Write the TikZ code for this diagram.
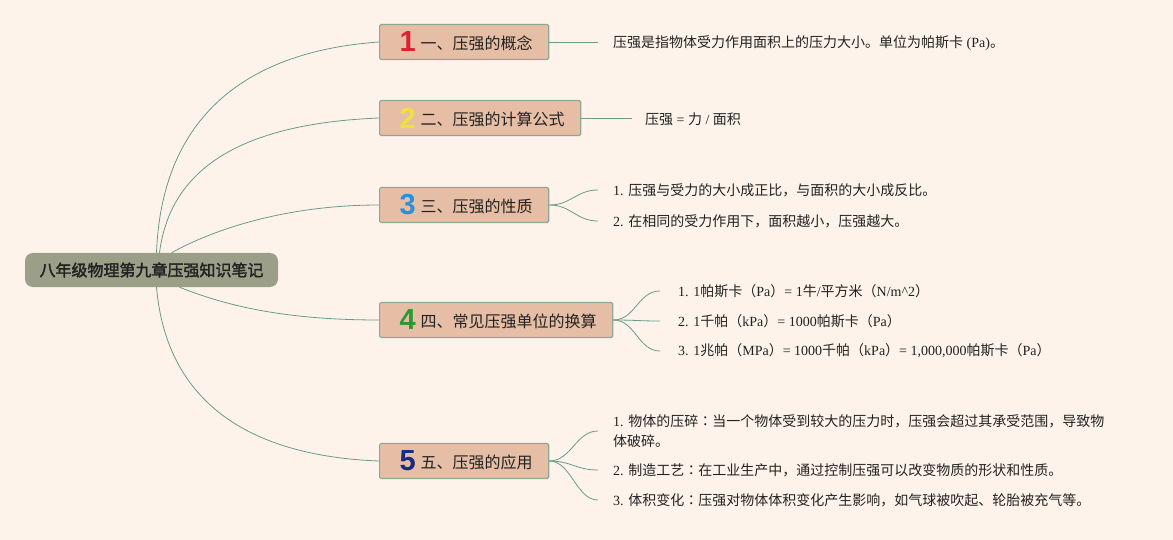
\documentclass[tikz,border=0pt]{standalone}
\usepackage{fontspec}
\setmainfont{Noto Sans CJK SC}
\newfontfamily\latf{Liberation Serif}
\newfontfamily\jpf{Noto Sans CJK JP}
\newfontfamily\cjkbold[FakeBold=2.2]{Noto Sans CJK SC}
\newfontfamily\digf{Liberation Sans}
\newcommand\Lt[1]{{\latf{}#1}}
\newcommand\cln{{\jpf ：}}
\newcommand\dg[2]{\raisebox{-2.5pt}{\digf\bfseries\fontsize{29}{29}\selectfont\color{#1}#2}}
\definecolor{bgc}{HTML}{FDF3EA}
\definecolor{rootc}{HTML}{9C9F87}
\definecolor{brc}{HTML}{E6BEA5}
\definecolor{brd}{HTML}{8FA895}
\definecolor{lnc}{HTML}{6B9A88}
\definecolor{txc}{HTML}{222222}
\definecolor{d1}{HTML}{E0202E}
\definecolor{d2}{HTML}{F0E040}
\definecolor{d3}{HTML}{2A90D8}
\definecolor{d4}{HTML}{2A9A30}
\definecolor{d5}{HTML}{1A2A80}
\begin{document}
\begin{tikzpicture}[x=1pt,y=-1pt,
  rootbox/.style={fill=rootc,rounded corners=8pt,minimum width=253pt,minimum height=34pt,inner sep=0pt,
    font=\cjkbold\fontsize{16}{18}\selectfont,text=txc},
  brbox/.style={fill=brc,draw=brd,line width=1.2pt,rounded corners=1.5pt,minimum height=35pt,inner xsep=16pt,inner ysep=0pt,
    anchor=west,font=\fontsize{16}{18}\selectfont,text=txc},
  leaf/.style={anchor=west,inner sep=0pt,font=\fontsize{14}{20}\selectfont,text=txc,align=left},
  conn/.style={draw=lnc,line width=0.8pt}]
\fill[bgc] (0,0) rectangle (1173,540);
\useasboundingbox (0,0) rectangle (1173,540);

\node[rootbox] (root) at (151.5,270) {八年级物理第九章压强知识笔记};

\node[brbox] (b1) at (379,42) {\hspace{4pt}\dg{d1}{1}\hspace{5pt}一、压强的概念};
\node[brbox] (b2) at (379,118) {\hspace{4pt}\dg{d2}{2}\hspace{5pt}二、压强的计算公式};
\node[brbox] (b3) at (379,205) {\hspace{4pt}\dg{d3}{3}\hspace{5pt}三、压强的性质};
\node[brbox] (b4) at (379,320) {\hspace{4pt}\dg{d4}{4}\hspace{5pt}四、常见压强单位的换算};
\node[brbox] (b5) at (379,461) {\hspace{4pt}\dg{d5}{5}\hspace{5pt}五、压强的应用};

\node[leaf] (l1) at (613,43) {压强是指物体受力作用面积上的压力大小。单位为帕斯卡\Lt{ (Pa)}。};
\node[leaf] (l2) at (645,119) {压强\Lt{ = }力\Lt{ / }面积};
\node[leaf] (l3a) at (613,190) {\Lt{1. }压强与受力的大小成正比，与面积的大小成反比。};
\node[leaf] (l3b) at (613,221) {\Lt{2. }在相同的受力作用下，面积越小，压强越大。};
\node[leaf] (l4a) at (678,291) {\Lt{1. 1}帕斯卡（\Lt{Pa}）\Lt{= 1}牛\Lt{/}平方米（\Lt{N/m\textasciicircum2}）};
\node[leaf] (l4b) at (678,321) {\Lt{2. 1}千帕（\Lt{kPa}）\Lt{= 1000}帕斯卡（\Lt{Pa}）};
\node[leaf] (l4c) at (678,351) {\Lt{3. 1}兆帕（\Lt{MPa}）\Lt{= 1000}千帕（\Lt{kPa}）\Lt{= 1,000,000}帕斯卡（\Lt{Pa}）};
\node[leaf] (l5a) at (613,431) {\Lt{1. }物体的压碎\cln 当一个物体受到较大的压力时，压强会超过其承受范围，导致物\\体破碎。};
\node[leaf] (l5b) at (613,470) {\Lt{2. }制造工艺\cln 在工业生产中，通过控制压强可以改变物质的形状和性质。};
\node[leaf] (l5c) at (613,500) {\Lt{3. }体积变化\cln 压强对物体体积变化产生影响，如气球被吹起、轮胎被充气等。};

% root to branches
\draw[conn] ([xshift=5pt]root.north) .. controls +(5,-130) and +(-140,10) .. (b1.west);
\draw[conn] ([xshift=8pt]root.north) .. controls +(12,-95) and +(-120,5) .. (b2.west);
\draw[conn] ([xshift=20pt]root.north) .. controls +(45,-25) and +(-90,0) .. (b3.west);
\draw[conn] ([xshift=28pt]root.south) .. controls +(50,20) and +(-90,0) .. (b4.west);
\draw[conn] ([xshift=5pt]root.south) .. controls +(10,115) and +(-130,-5) .. (b5.west);

% branches to leaves
\draw[conn] (b1.east) -- ([xshift=-15pt]l1.west |- b1.east);
\draw[conn] (b2.east) -- ([xshift=-13pt]l2.west |- b2.east);
\draw[conn] (b3.east) .. controls +(22,0) and +(-22,0) .. ([xshift=-15pt]l3a.west);
\draw[conn] (b3.east) .. controls +(22,0) and +(-22,0) .. ([xshift=-15pt]l3b.west);
\draw[conn] (b4.east) .. controls +(22,0) and +(-22,0) .. ([xshift=-18pt]l4a.west);
\draw[conn] (b4.east) .. controls +(22,0) and +(-22,0) .. ([xshift=-18pt]l4b.west);
\draw[conn] (b4.east) .. controls +(22,0) and +(-22,0) .. ([xshift=-18pt]l4c.west);
\draw[conn] (b5.east) .. controls +(22,0) and +(-22,0) .. ([xshift=-15pt]l5a.west);
\draw[conn] (b5.east) .. controls +(22,0) and +(-22,0) .. ([xshift=-15pt]l5b.west);
\draw[conn] (b5.east) .. controls +(22,0) and +(-22,0) .. ([xshift=-15pt]l5c.west);
\end{tikzpicture}
\end{document}
